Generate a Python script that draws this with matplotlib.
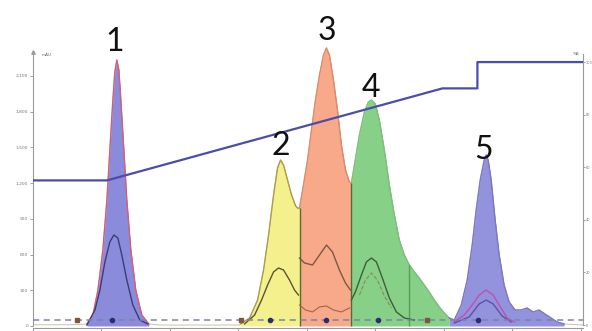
import numpy as np
import matplotlib
matplotlib.use("Agg")
import matplotlib.pyplot as plt

# ---------------- data ----------------
# total UV trace (time, mAU)
uv_t = [0.00, 0.54, 0.787, 0.875, 0.948, 1.020, 1.079, 1.122, 1.166, 1.195, 1.224, 1.254,
        1.283, 1.327, 1.370, 1.429, 1.501, 1.589, 1.691, 1.851, 3.017, 3.032, 3.163, 3.280,
        3.367, 3.440, 3.513, 3.571, 3.615, 3.659, 3.717, 3.776, 3.834, 3.863, 3.892, 3.950,
        4.009, 4.067, 4.125, 4.184, 4.242, 4.286, 4.329, 4.388, 4.446, 4.504, 4.563, 4.621,
        4.650, 4.694, 4.767, 4.840, 4.898, 4.942, 5.000, 5.058, 5.131, 5.204, 5.277, 5.350,
        5.423, 5.496, 5.569, 5.641, 5.714, 5.787, 5.860, 5.933, 6.006, 6.079, 6.152, 6.254,
        6.341, 6.414, 6.472, 6.531, 6.589, 6.618, 6.647, 6.691, 6.749, 6.808, 6.880, 6.953,
        7.041, 7.128, 7.216, 7.303, 7.391, 7.478, 7.566, 7.653, 7.755, 8.032]
uv_mau = [10, 10, 17, 92, 302, 638, 1058, 1478, 1898, 2134, 2234, 2150,
          1898, 1478, 1058, 638, 302, 92, 17, 8, 8, 17, 67, 218,
          470, 764, 1100, 1327, 1394, 1352, 1226, 1100, 1010, 990, 991, 1184,
          1394, 1646, 1898, 2108, 2276, 2335, 2276, 2066, 1814, 1520, 1310, 1210,
          1201, 1352, 1604, 1798, 1882, 1898, 1865, 1730, 1478, 1184, 932, 722,
          596, 512, 454, 403, 344, 285, 218, 160, 109, 67, 50, 176,
          386, 680, 974, 1226, 1394, 1436, 1394, 1226, 890, 596, 344, 202,
          134, 134, 151, 118, 134, 100, 67, 34, 17, 8]

# fractions: (start, end, fill colour, outline colour)
frac_start = [0.787, 3.032, 3.892, 4.650, 6.079]
frac_end = [1.691, 3.892, 4.650, 6.079, 7.755]
frac_fill = ["#8b8bdb", "#f4f08e", "#f8a98a", "#86d088", "#9292dd"]
frac_edge = ["#d0607a", "#aaa044", "#d98c6c", "#7cc07e", "#7a78c8"]
frac_dividers = [3.892, 4.650, 5.496]

# secondary wavelength traces
p1_t = [0.787, 0.904, 0.977, 1.050, 1.122, 1.181, 1.239, 1.297, 1.370, 1.458, 1.560, 1.677]
p1_v = [8, 134, 302, 538, 706, 764, 739, 596, 386, 176, 50, 17]
p2_t = [3.090, 3.236, 3.338, 3.426, 3.513, 3.586, 3.659, 3.746, 3.819, 3.877]
p2_v = [17, 92, 218, 344, 454, 487, 470, 386, 302, 260]
p3_t = [3.892, 3.965, 4.082, 4.184, 4.286, 4.373, 4.475, 4.563, 4.636]
p3_v = [571, 529, 512, 596, 680, 622, 470, 361, 302]
p3b_t = [3.892, 3.980, 4.082, 4.184, 4.286, 4.388, 4.504, 4.621]
p3b_v = [176, 134, 118, 160, 168, 134, 118, 151]
p4_t = [4.650, 4.708, 4.796, 4.869, 4.942, 5.015, 5.102, 5.204, 5.306, 5.423, 5.569]
p4_v = [218, 286, 428, 538, 571, 538, 403, 235, 118, 67, 50]
p4b_t = [4.767, 4.854, 4.942, 5.029, 5.131, 5.233]
p4b_v = [260, 386, 445, 386, 252, 151]
p5a_t = [6.152, 6.297, 6.414, 6.516, 6.618, 6.720, 6.808, 6.924, 7.026]
p5a_v = [34, 92, 176, 260, 302, 260, 176, 67, 34]
p5b_t = [6.152, 6.370, 6.516, 6.618, 6.720, 6.851, 6.982]
p5b_v = [25, 76, 185, 218, 185, 84, 34]

# gradient (%B)
grad_t = [0.0, 1.08, 5.98, 6.49, 6.49, 8.03]
grad_b = [55, 55, 90, 90, 100, 100]

# fraction markers on dashed line
dot_t = [1.152, 3.455, 4.286, 5.044, 6.501]
sq_t = [0.641, 3.032, 5.758]
marker_level = 50

peak_labels = ["1", "2", "3", "4", "5"]
peak_label_px = [(115, 42), (281, 146), (327, 31), (371, 88), (484, 150)]

y_ticks = [0, 300, 600, 900, 1200, 1500, 1800, 2100]
y2_ticks = [0, 20, 40, 60, 80, 100]
x_ticks = [0, 1, 2, 3, 4, 5, 6, 7, 8]

# ---------------- plot ----------------
W, H = 592, 331
fig = plt.figure(figsize=(W / 100, H / 100), dpi=100)
ax = fig.add_axes([33 / W, 3 / H, (583 - 33) / W, (328 - 45) / H])

t = np.array(uv_t)
v = np.array(uv_mau)

for s, e, fc, ec in zip(frac_start, frac_end, frac_fill, frac_edge):
    m = (t >= s - 1e-9) & (t <= e + 1e-9)
    ax.fill_between(t[m], 0, v[m], color=fc, lw=0, zorder=2)
    ax.plot(t[m], v[m], color=ec, lw=1.0, zorder=3)

for d in frac_dividers:
    i = int(np.argmin(np.abs(t - d)))
    col = "#5a6a30" if d < 5 else "#5f9a5f"
    ax.vlines(d, 0, v[i], color=col, lw=1.0, zorder=3)

ax.plot(t, v, color="#a08060", lw=0.6, zorder=2.5, alpha=0.6)

ax.plot(p1_t, p1_v, color="#3c3c7a", lw=1.0, zorder=4)
ax.plot(p2_t, p2_v, color="#5a5630", lw=1.0, zorder=4)
ax.plot(p3_t, p3_v, color="#7a5a40", lw=1.0, zorder=4)
ax.plot(p3b_t, p3b_v, color="#9a6a48", lw=0.8, zorder=4)
ax.plot(p4_t, p4_v, color="#3f5f3a", lw=1.0, zorder=4)
ax.plot(p4b_t, p4b_v, color="#8a8a5a", lw=0.8, ls="--", zorder=4)
ax.plot(p5a_t, p5a_v, color="#c050b0", lw=1.0, zorder=4)
ax.plot(p5b_t, p5b_v, color="#6050a8", lw=1.0, zorder=4)

ax.axhline(marker_level, color="#7a84a8", lw=1.1, ls=(0, (4, 3)), zorder=4)
ax.plot(dot_t, [marker_level] * len(dot_t), "o", color="#2c2c70", ms=3, zorder=5)
ax.plot(sq_t, [marker_level] * len(sq_t), "s", color="#7a5a3a", ms=3, zorder=5)

ax.set_xlim(0, 8.032)
ax.set_ylim(-17, 2360)
ax.set_xticks(x_ticks)
ax.set_xticklabels([])
ax.set_yticks(y_ticks)
ax.set_yticklabels([f"{y:,}" for y in y_ticks])
ax.tick_params(axis="both", length=2, width=0.6, colors="#909090", labelsize=3.2,
               labelcolor="#777777", pad=1.5)
for sp in ["top", "right"]:
    ax.spines[sp].set_visible(False)
ax.spines["left"].set_bounds(0, 2300)
ax.spines["left"].set_color("#9a9a9a")
ax.spines["bottom"].set_color("#9a9a9a")
ax.plot([0], [2300], marker="^", color="#9a9a9a", ms=2.5, clip_on=False, zorder=6)

ax2 = ax.twinx()
ax2.set_ylim(-1.14, 106.5)
ax2.plot(grad_t, grad_b, color="#4c4cac", lw=1.6, zorder=6)
ax2.set_yticks(y2_ticks)
ax2.set_yticklabels([str(y) for y in y2_ticks])
ax2.tick_params(axis="y", length=1.5, width=0.6, colors="#909090", labelsize=2.5,
                labelcolor="#777777", pad=0.3)
for sp in ["top", "left", "bottom"]:
    ax2.spines[sp].set_visible(False)
ax2.spines["right"].set_bounds(0, 103)
ax2.spines["right"].set_color("#9a9a9a")
ax2.set_xlim(0, 8.032)

fig.text(42 / W, 1 - 55 / H, "mAU", fontsize=3, color="#666666", ha="left", va="center")
fig.text(573 / W, 1 - 54 / H, "%B", fontsize=3, color="#666666", ha="left", va="center")

for lab, (px, py) in zip(peak_labels, peak_label_px):
    fig.text(px / W, 1 - py / H, lab, fontsize=23, family=["Lato", "DejaVu Sans"],
             fontweight="normal", color="#111111", ha="center", va="center")

fig.savefig("out.png", dpi=100)
